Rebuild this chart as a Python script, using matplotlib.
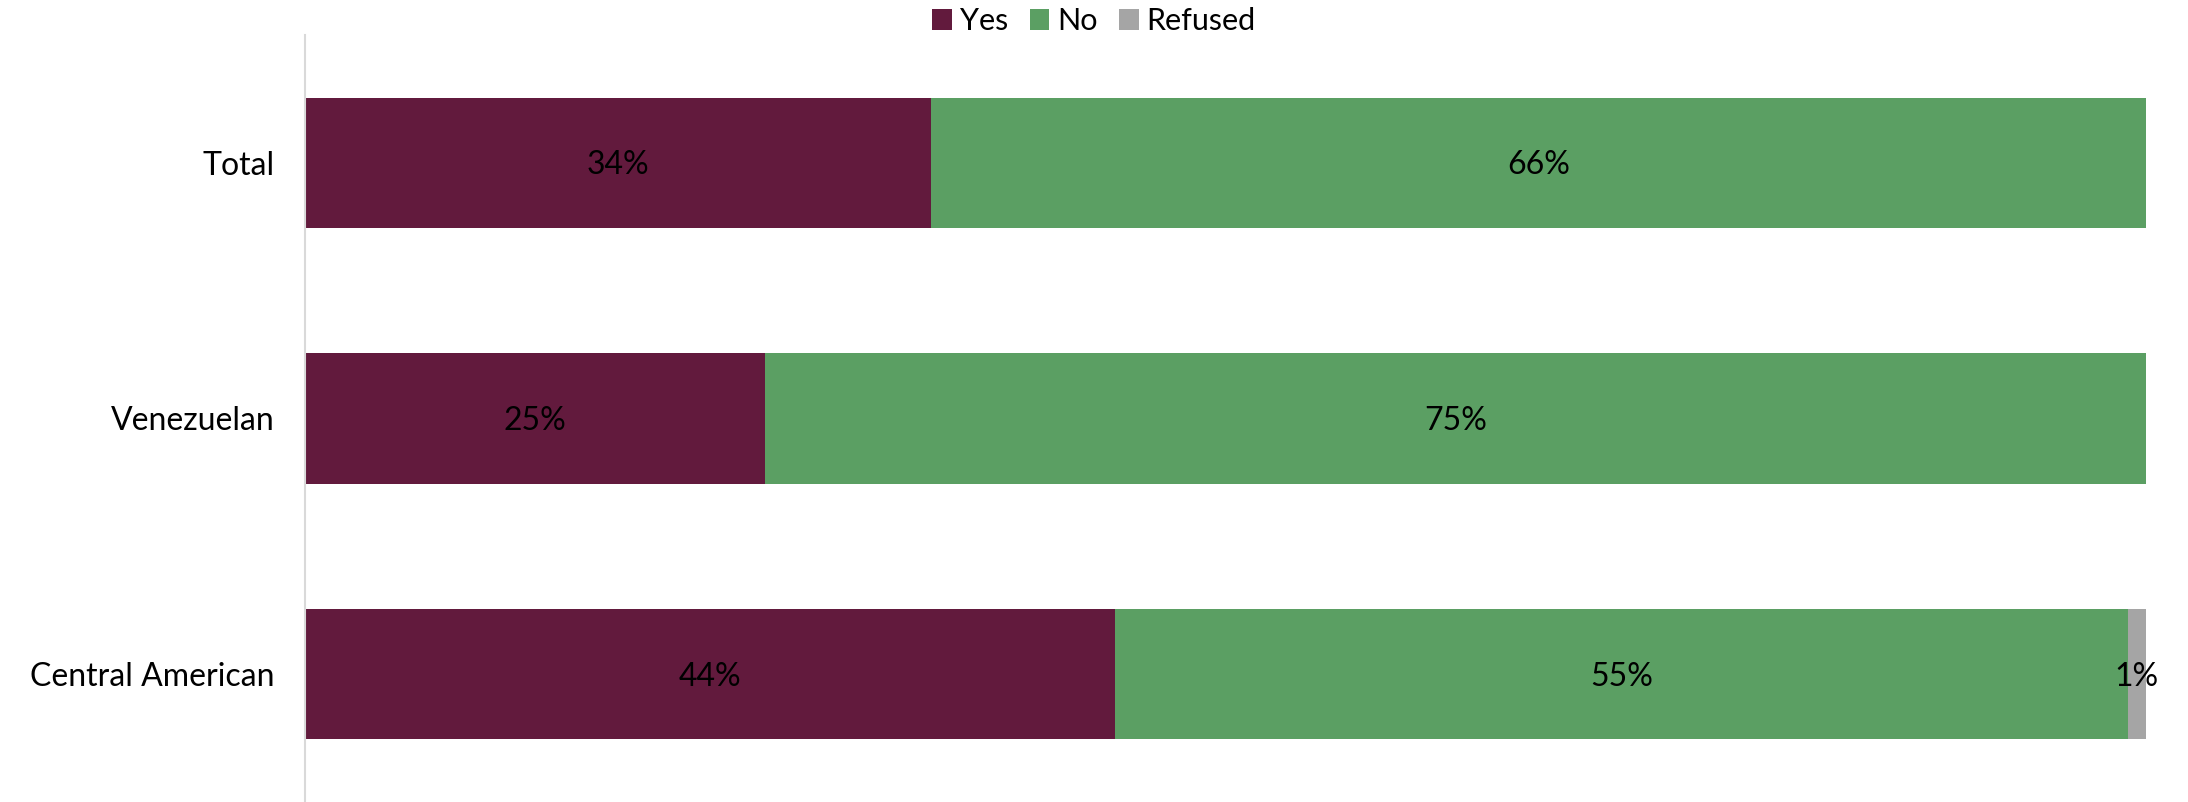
import matplotlib.pyplot as plt
import numpy as np

plt.rcParams['font.family'] = ['Lato', 'DejaVu Sans']

groups = ['Total', 'Venezuelan', 'Central American']
series = ['Yes', 'No', 'Refused']
yes_vals = [34, 25, 44]
no_vals = [66, 75, 55]
refused_vals = [0, 0, 1]
colors = ['#621A3D', '#5B9F63', '#A5A5A5']

fig = plt.figure(figsize=(21.88, 8.02), dpi=100)
ax = fig.add_axes([305 / 2188, 0, (2146 - 305) / 2188, 767 / 802])

y = np.arange(len(groups))
left = np.zeros(len(groups))
for name, vals, col in zip(series, [yes_vals, no_vals, refused_vals], colors):
    vals = np.array(vals, dtype=float)
    ax.barh(y, vals, left=left, height=0.51, color=col, label=name)
    for yi, v, l in zip(y, vals, left):
        if v > 0:
            ax.text(l + v / 2, yi + 0.01, f'{v:.0f}%', ha='center', va='center',
                    fontsize=23, color='black')
    left += vals

ax.set_xlim(0, 100)
ax.set_ylim(len(groups) - 0.5, -0.5)
ax.set_yticks(y)
ax.set_yticklabels(groups, fontsize=23)
ax.tick_params(axis='y', length=0, pad=22)
ax.set_xticks([])
for s in ['top', 'right', 'bottom']:
    ax.spines[s].set_visible(False)
ax.spines['left'].set_color('#D9D9D9')
ax.spines['left'].set_linewidth(1.5)

fig.legend(loc='upper center', bbox_to_anchor=(0.5, 1.01), ncol=3, frameon=False,
           fontsize=22, handlelength=0.65, handleheight=0.65, handletextpad=0.25,
           columnspacing=0.7, borderaxespad=0.1)

fig.savefig('out.png', dpi=100)
